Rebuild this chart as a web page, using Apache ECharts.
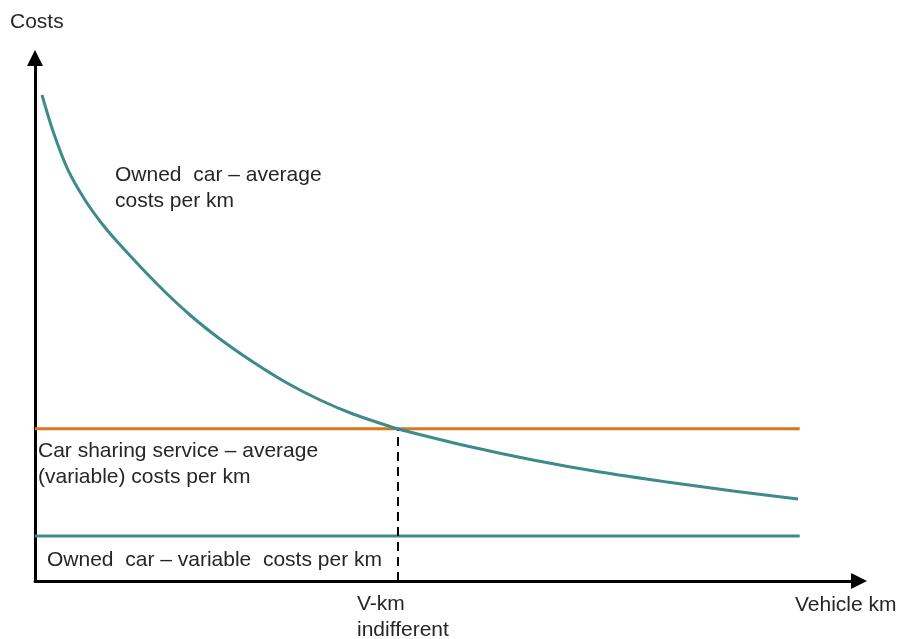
<!DOCTYPE html>
<html>
<head>
<meta charset="utf-8">
<script src="https://cdn.jsdelivr.net/npm/echarts@6/dist/echarts.min.js"></script>
<style>
    html, body { margin: 0; padding: 0; background: #fff; }
    #chart { width: 900px; height: 639px; }
</style>
</head>
<body>
<div id="chart"></div>
<script>
// vehicle km (0-100 scale) and average cost of an owned car (0-100 scale)
var ownedKm = [0.85, 2.18, 4.0, 6.07, 8.25, 10.68, 14.81, 18.81, 22.45, 26.46, 30.58, 34.59, 38.59, 42.72, 44.05, 52.43, 60.44, 68.57, 76.7, 84.71, 92.6];
var ownedAvgCost = [92.93, 86.04, 78.59, 72.85, 68.07, 63.67, 56.79, 50.86, 46.27, 41.87, 37.86, 34.61, 31.93, 29.73, 29.06, 25.81, 23.14, 20.84, 18.93, 17.21, 15.68];
var sharingCost = 29.1;
var ownedVarCost = 8.6;
var lineEndKm = 92.8;
var indifferentKm = 44.05;

var teal = '#3F8A8D';
var orange = '#D9761C';
var txt = '#262626';
var font = '"Liberation Sans", Arial, sans-serif';

var myChart = echarts.init(document.getElementById('chart'));

function textEl(x, y, s) {
    return {
        type: 'text',
        left: x,
        top: y,
        style: {
            text: s,
            fill: txt,
            font: '21px ' + font,
            lineHeight: 26
        }
    };
}

var hiddenAxis = {
    type: 'value',
    min: 0,
    max: 100,
    axisLabel: { show: false },
    axisTick: { show: false },
    splitLine: { show: false },
    axisLine: {
        show: true,
        symbol: ['none', 'triangle'],
        symbolSize: [16, 16],
        lineStyle: { color: '#000', width: 3 }
    }
};

var option = {
    animation: false,
    grid: { left: 35, right: 41, top: 58, bottom: 58 },
    xAxis: hiddenAxis,
    yAxis: hiddenAxis,
    graphic: [
        textEl(10, 9, 'Costs'),
        textEl(795, 592, 'Vehicle km'),
        textEl(357, 591, 'V-km\nindifferent'),
        textEl(115, 162, 'Owned  car – average\ncosts per km'),
        textEl(38, 438, 'Car sharing service – average\n(variable) costs per km'),
        textEl(47, 547, 'Owned  car – variable  costs per km')
    ],
    series: [{
        type: 'line',
        data: [[0, sharingCost], [lineEndKm, sharingCost]],
        showSymbol: false,
        lineStyle: { color: orange, width: 3 }
    }, {
        type: 'line',
        data: [[0, ownedVarCost], [lineEndKm, ownedVarCost]],
        showSymbol: false,
        lineStyle: { color: teal, width: 3 }
    }, {
        type: 'line',
        data: [[indifferentKm, 0], [indifferentKm, sharingCost]],
        showSymbol: false,
        lineStyle: { color: '#000', width: 2, type: [9, 6] }
    }, {
        type: 'line',
        smooth: 0.3,
        data: ownedKm.map(function (k, i) { return [k, ownedAvgCost[i]]; }),
        showSymbol: false,
        lineStyle: { color: teal, width: 3 }
    }]
};

myChart.setOption(option);
</script>
</body>
</html>
